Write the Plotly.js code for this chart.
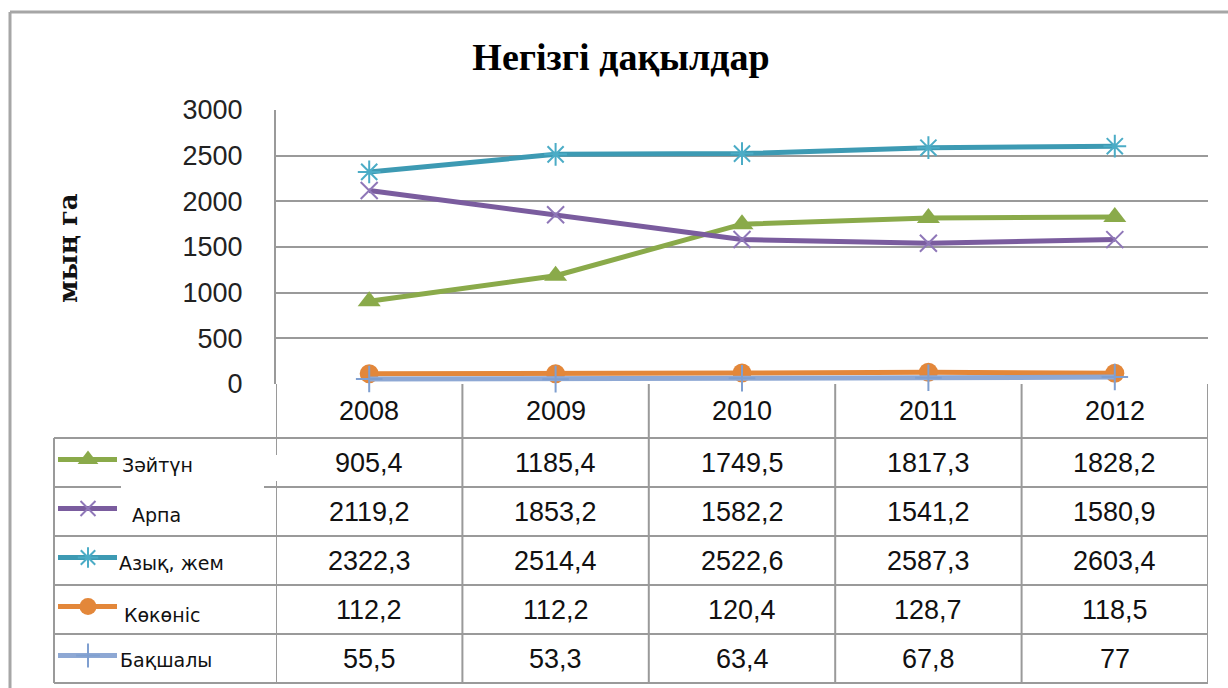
<!DOCTYPE html>
<html>
<head>
<meta charset="utf-8">
<script src="https://cdn.plot.ly/plotly-3.0.1.min.js"></script>
<style>html,body{margin:0;padding:0;background:#fff;}#chart{width:1228px;height:688px;}</style>
</head>
<body>
<div id="chart"></div>
<script>
// ---- data ----
const years = ['2008', '2009', '2010', '2011', '2012'];
const seriesNames = ['Зәйтүн', 'Арпа', 'Азық, жем', 'Көкөніс', 'Бақшалы'];
const zaytun   = [905.4, 1185.4, 1749.5, 1817.3, 1828.2];
const arpa     = [2119.2, 1853.2, 1582.2, 1541.2, 1580.9];
const azykZhem = [2322.3, 2514.4, 2522.6, 2587.3, 2603.4];
const kokonis  = [112.2, 112.2, 120.4, 128.7, 118.5];
const baqshaly = [55.5, 53.3, 63.4, 67.8, 77];
const chartTitle = 'Негізгі дақылдар';
const yTitle = 'мың га';

// ---- styles ----
const W = 1228, H = 688;
const px = x => x / W;
const py = y => 1 - y / H;
const allValues = [zaytun, arpa, azykZhem, kokonis, baqshaly];
const styles = [
  {color: '#8AAA4A', symbol: 'triangle-up', size: 20, mcolor: '#8AAA4A', mline: 0},
  {color: '#7A5C9E', symbol: 'x-thin-open', size: 17, mcolor: '#8F77B8', mline: 2},
  {color: '#3D9AB3', symbol: 'asterisk-open', size: 19, mcolor: '#4BACC6', mline: 2},
  {color: '#E3873A', symbol: 'circle', size: 19, mcolor: '#E3873A', mline: 0},
  {color: '#8EA8D4', symbol: 'cross-thin-open', size: 19, mcolor: '#7F9FD0', mline: 2}
];
const plotLeft = 276, plotRight = 1208, plotTop = 110, plotBottom = 384;
const headerBottom = 438, rowH = 49, tableLeft = 54;
const labelX = [120, 130, 117, 122, 118];
const labelDy = [2, 3, 2, 5, 1];
const gridColor = '#9a9a9a';
const fmt = v => String(v).replace('.', ',');

const traces = [];
allValues.forEach((vals, i) => {
  const s = styles[i];
  traces.push({
    x: years, y: vals, type: 'scatter', mode: 'lines+markers',
    line: {color: s.color, width: 5},
    marker: {symbol: s.symbol, size: s.size, color: s.mcolor,
             line: {color: s.mcolor, width: s.mline}},
    cliponaxis: false, showlegend: false, hoverinfo: 'skip',
    xaxis: 'x', yaxis: 'y'
  });
});
// legend swatches in the table label cells
allValues.forEach((vals, i) => {
  const s = styles[i];
  const cy = headerBottom + rowH * i + rowH / 2 - 3;
  traces.push({
    x: [58, 88, 117], y: [cy, cy, cy], type: 'scatter', mode: 'lines+markers',
    line: {color: s.color, width: 5},
    marker: {symbol: s.symbol, size: [0, s.size - 2, 0], color: s.mcolor,
             opacity: [0, 1, 0], line: {color: s.mcolor, width: s.mline}},
    cliponaxis: false, showlegend: false, hoverinfo: 'skip',
    xaxis: 'x2', yaxis: 'y2'
  });
});

const shapes = [];
const lineStyle = {color: gridColor, width: 2};
// outer chart border (top + left)
shapes.push({type: 'line', xref: 'paper', yref: 'paper', x0: px(10), x1: 1, y0: py(12), y1: py(12), line: {color: '#a6a6a6', width: 3}});
shapes.push({type: 'line', xref: 'paper', yref: 'paper', x0: px(10), x1: px(10), y0: py(12), y1: 0, line: {color: '#a6a6a6', width: 3}});
// table horizontal lines
const tableBottom = headerBottom + rowH * seriesNames.length;
for (let r = 0; r <= seriesNames.length; r++) {
  const yy = headerBottom + rowH * r;
  shapes.push({type: 'line', xref: 'paper', yref: 'paper', x0: px(tableLeft), x1: px(plotRight), y0: py(yy), y1: py(yy), line: lineStyle});
}
// table vertical lines
shapes.push({type: 'line', xref: 'paper', yref: 'paper', x0: px(tableLeft), x1: px(tableLeft), y0: py(headerBottom), y1: py(tableBottom), line: lineStyle});
for (let j = 0; j <= years.length; j++) {
  shapes.push({type: 'line', xref: 'x', yref: 'paper', x0: j - 0.5, x1: j - 0.5, y0: py(plotBottom), y1: py(tableBottom), line: lineStyle});
}
// gaps left by the overlapping label box
shapes.push({type: 'rect', xref: 'paper', yref: 'paper', x0: px(121), x1: px(264), y0: py(484), y1: py(490), fillcolor: '#fff', line: {width: 0}});
shapes.push({type: 'rect', xref: 'paper', yref: 'paper', x0: px(273), x1: px(279), y0: py(455), y1: py(481), fillcolor: '#fff', line: {width: 0}});

const annotations = [];
const numFont = {family: 'Liberation Sans, Arial, sans-serif', size: 27, color: '#111'};
years.forEach((yr, j) => {
  annotations.push({text: yr, xref: 'x', x: j, yref: 'paper', y: py((plotBottom + headerBottom) / 2),
    showarrow: false, xanchor: 'center', yanchor: 'middle', font: numFont});
});
allValues.forEach((vals, i) => {
  const cy = headerBottom + rowH * i + rowH / 2;
  vals.forEach((v, j) => {
    annotations.push({text: fmt(v), xref: 'x', x: j, yref: 'paper', y: py(cy),
      showarrow: false, xanchor: 'center', yanchor: 'middle', font: numFont});
  });
  annotations.push({text: seriesNames[i], xref: 'paper', x: px(labelX[i]), yref: 'paper', y: py(cy + labelDy[i]),
    showarrow: false, xanchor: 'left', yanchor: 'middle',
    font: {family: 'DejaVu Sans, sans-serif', size: 19, color: '#111'}});
});
annotations.push({text: '<b>' + yTitle + '</b>', xref: 'paper', yref: 'paper', x: px(68), y: py(248),
  textangle: -90, showarrow: false, xanchor: 'center', yanchor: 'middle',
  font: {family: 'DejaVu Serif, serif', size: 26, color: '#111'}});

const layout = {
  width: W, height: H, autosize: false,
  margin: {l: 0, r: 0, t: 0, b: 0, pad: 0},
  paper_bgcolor: '#ffffff', plot_bgcolor: 'rgba(0,0,0,0)',
  showlegend: false,
  title: {text: '<b>' + chartTitle + '</b>', xref: 'paper', yref: 'paper', x: px(621), y: py(57),
    xanchor: 'center', yanchor: 'middle',
    font: {family: 'Liberation Serif, Times New Roman, serif', size: 38, color: '#000'}},
  xaxis: {type: 'category', categoryorder: 'array', categoryarray: years, range: [-0.5, years.length - 0.5],
    domain: [px(plotLeft), px(plotRight)], showticklabels: false, showgrid: false,
    zeroline: false, showline: false, ticks: '', fixedrange: true},
  yaxis: {range: [0, 3000], dtick: 500, tick0: 0, domain: [py(plotBottom), py(plotTop)],
    showgrid: true, gridcolor: gridColor, gridwidth: 2, zeroline: false,
    showline: true, linecolor: gridColor, linewidth: 2,
    ticks: 'outside', ticklen: 26, tickcolor: 'rgba(0,0,0,0)',
    tickfont: {family: 'Liberation Sans, Arial, sans-serif', size: 27, color: '#222'}, fixedrange: true},
  xaxis2: {domain: [0, 1], range: [0, W], visible: false, anchor: 'y2', fixedrange: true},
  yaxis2: {domain: [0, 1], range: [H, 0], visible: false, anchor: 'x2', fixedrange: true},
  shapes: shapes,
  annotations: annotations
};

Plotly.newPlot('chart', traces, layout, {displayModeBar: false, staticPlot: true});
</script>
</body>
</html>
